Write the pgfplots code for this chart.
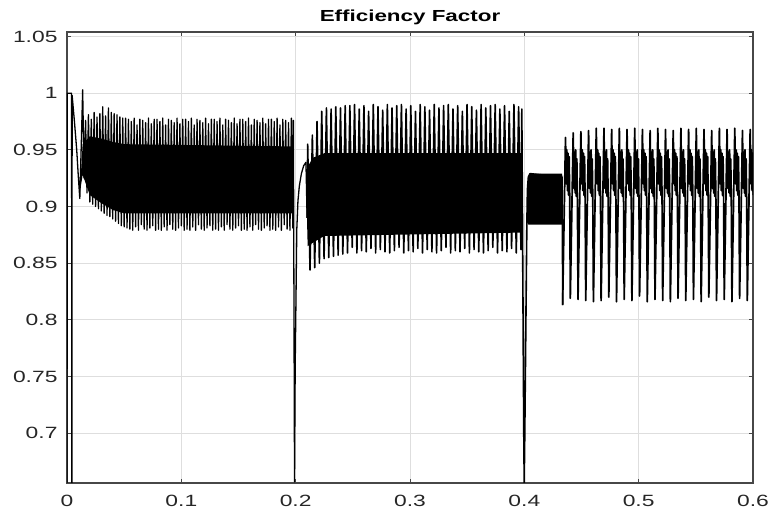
\documentclass[border=0pt]{standalone}
\usepackage{pgfplots}
\pgfplotsset{compat=1.18}
\usepackage{fontspec}
\setmainfont{Liberation Sans}[FakeStretch=1.4]
\usetikzlibrary{calc}
\begin{document}
\begin{tikzpicture}
\begin{axis}[
  scale only axis, width=686pt, height=451pt,
  xmin=0, xmax=0.6, ymin=0.656, ymax=1.054,
  xtick={0,0.1,0.2,0.3,0.4,0.5,0.6},
  xticklabels={0,0.1,0.2,0.3,0.4,0.5,0.6},
  ytick={0.7,0.75,0.8,0.85,0.9,0.95,1,1.05},
  yticklabels={0.7,0.75,0.8,0.85,0.9,0.95,1,1.05},
  /pgf/number format/assume math mode=true,
  tick label style={font=\fontsize{16.3}{17}\selectfont, text=black!85},
  xticklabel style={yshift=-9pt},
  yticklabel style={xshift=-6pt},
  grid=major, major grid style={black!13, line width=1pt},
  axis line style={black!72, line width=1.3pt},
  tick align=inside, major tick length=4pt, tick style={black!72, line width=1pt},
  title={Efficiency Factor},
  every axis title/.style={font=\fontsize{16}{16}\selectfont\bfseries, at={(0.5,1)}, anchor=base, yshift=10.3pt},
]
% solid bands
\addplot[fill=black, draw=none, forget plot] coordinates {
(0.0112,0.912) (0.0137,0.955) (0.020,0.962) (0.030,0.960) (0.040,0.957) (0.050,0.955) (0.1975,0.953)
(0.1975,0.894) (0.050,0.894) (0.040,0.897) (0.030,0.903) (0.020,0.910) (0.0137,0.928)} -- cycle;
\addplot[fill=black, draw=none, forget plot] coordinates {
(0.2100,0.885) (0.2105,0.935) (0.2150,0.943) (0.2250,0.947) (0.3975,0.947)
(0.3975,0.877) (0.2250,0.874) (0.2150,0.868) (0.2105,0.865)} -- cycle;
\addplot[fill=black, draw=none, forget plot] coordinates {
(0.4024,0.886) (0.4027,0.915) (0.4035,0.926) (0.4050,0.929) (0.4330,0.929)
(0.4335,0.924) (0.4335,0.884) (0.4035,0.884)} -- cycle;
% signal, first interval
\addplot[black, line width=1.3pt, line join=round, forget plot] coordinates {
(0,0.656) (0.0003,1.000) (0.0040,1.000) (0.00425,0.656) (0.0045,0.998)
(0.0065,0.975) (0.0085,0.950) (0.0100,0.925) (0.0112,0.907) (0.0125,0.955)
(0.0137,1.003) (0.0150,0.925)
(0.01625,0.976) (0.01750,0.912) (0.01875,0.981) (0.02000,0.904)
(0.02125,0.977) (0.02250,0.902) (0.02375,0.983) (0.02500,0.900)
(0.02625,0.979) (0.02750,0.898) (0.02875,0.982) (0.03000,0.896)
(0.03125,0.988) (0.03250,0.894) (0.03375,0.980) (0.03500,0.892)
(0.03625,0.987) (0.03750,0.891) (0.03875,0.983) (0.04000,0.889)
(0.04125,0.982) (0.04250,0.887) (0.04375,0.981) (0.04500,0.885)
(0.04625,0.979) (0.04750,0.883) (0.04875,0.978) (0.05000,0.882)
(0.05125,0.978) (0.05250,0.881)
(0.05375,0.977) (0.05500,0.880) (0.05625,0.975) (0.05750,0.879)
(0.05875,0.978) (0.06000,0.882) (0.06125,0.972) (0.06250,0.879)
(0.06375,0.977) (0.06500,0.884) (0.06625,0.976) (0.06750,0.880)
(0.06875,0.974) (0.07000,0.879) (0.07125,0.978) (0.07250,0.881)
(0.07375,0.973) (0.07500,0.883) (0.07625,0.977) (0.07750,0.879)
(0.07875,0.977) (0.08000,0.880) (0.08125,0.975) (0.08250,0.879)
(0.08375,0.978) (0.08500,0.882) (0.08625,0.972) (0.08750,0.879)
(0.08875,0.977) (0.09000,0.884) (0.09125,0.976) (0.09250,0.880)
(0.09375,0.974) (0.09500,0.879) (0.09625,0.978) (0.09750,0.881)
(0.09875,0.973) (0.10000,0.883) (0.10125,0.977) (0.10250,0.879)
(0.10375,0.977) (0.10500,0.880) (0.10625,0.975) (0.10750,0.879)
(0.10875,0.978) (0.11000,0.882) (0.11125,0.972) (0.11250,0.879)
(0.11375,0.977) (0.11500,0.884) (0.11625,0.976) (0.11750,0.880)
(0.11875,0.974) (0.12000,0.879) (0.12125,0.978) (0.12250,0.881)
(0.12375,0.973) (0.12500,0.883) (0.12625,0.977) (0.12750,0.879)
(0.12875,0.977) (0.13000,0.880) (0.13125,0.975) (0.13250,0.879)
(0.13375,0.978) (0.13500,0.882) (0.13625,0.972) (0.13750,0.879)
(0.13875,0.977) (0.14000,0.884) (0.14125,0.976) (0.14250,0.880)
(0.14375,0.974) (0.14500,0.879) (0.14625,0.978) (0.14750,0.881)
(0.14875,0.973) (0.15000,0.883) (0.15125,0.977) (0.15250,0.879)
(0.15375,0.977) (0.15500,0.880) (0.15625,0.975) (0.15750,0.879)
(0.15875,0.978) (0.16000,0.882) (0.16125,0.972) (0.16250,0.879)
(0.16375,0.977) (0.16500,0.884) (0.16625,0.976) (0.16750,0.880)
(0.16875,0.974) (0.17000,0.879) (0.17125,0.978) (0.17250,0.881)
(0.17375,0.973) (0.17500,0.883) (0.17625,0.977) (0.17750,0.879)
(0.17875,0.977) (0.18000,0.880) (0.18125,0.975) (0.18250,0.879)
(0.18375,0.978) (0.18500,0.882) (0.18625,0.972) (0.18750,0.879)
(0.18875,0.977) (0.19000,0.884) (0.19125,0.976) (0.19250,0.880)
(0.19375,0.974) (0.19500,0.879) (0.19625,0.978) (0.19750,0.881)
(0.19800,0.976) (0.19900,0.657) (0.19960,0.760) (0.2010,0.880)
(0.2020,0.905) (0.2032,0.918) (0.2050,0.929) (0.2070,0.936) (0.2090,0.939) (0.2100,0.890)
};
% signal, second interval
\addplot[black, line width=1.6pt, line join=round, forget plot] coordinates {
(0.2100,0.890)
(0.21050,0.955) (0.21255,0.844) (0.21460,0.963) (0.21665,0.846)
(0.21870,0.975) (0.22075,0.850) (0.22280,0.984) (0.22485,0.854)
(0.22690,0.987) (0.22895,0.855) (0.23100,0.986) (0.23305,0.856)
(0.23510,0.988) (0.23715,0.857) (0.23920,0.987) (0.24125,0.858)
(0.24330,0.989) (0.24535,0.859)
(0.24740,0.989) (0.24945,0.864) (0.25150,0.990) (0.25355,0.859)
(0.25560,0.986) (0.25765,0.861) (0.25970,0.989) (0.26175,0.860)
(0.26380,0.984) (0.26585,0.863) (0.26790,0.990) (0.26995,0.859)
(0.27200,0.988) (0.27405,0.862) (0.27610,0.985) (0.27815,0.860)
(0.28020,0.990) (0.28225,0.859) (0.28430,0.987) (0.28635,0.861)
(0.28840,0.989) (0.29045,0.864) (0.29250,0.990) (0.29455,0.859)
(0.29660,0.986) (0.29865,0.861) (0.30070,0.989) (0.30275,0.860)
(0.30480,0.984) (0.30685,0.863) (0.30890,0.990) (0.31095,0.859)
(0.31300,0.988) (0.31505,0.862) (0.31710,0.985) (0.31915,0.860)
(0.32120,0.990) (0.32325,0.859) (0.32530,0.987) (0.32735,0.861)
(0.32940,0.989) (0.33145,0.864) (0.33350,0.990) (0.33555,0.859)
(0.33760,0.986) (0.33965,0.861) (0.34170,0.989) (0.34375,0.860)
(0.34580,0.984) (0.34785,0.863) (0.34990,0.990) (0.35195,0.859)
(0.35400,0.988) (0.35605,0.862) (0.35810,0.985) (0.36015,0.860)
(0.36220,0.990) (0.36425,0.859) (0.36630,0.987) (0.36835,0.861)
(0.37040,0.989) (0.37245,0.864) (0.37450,0.990) (0.37655,0.859)
(0.37860,0.986) (0.38065,0.861) (0.38270,0.989) (0.38475,0.860)
(0.38680,0.984) (0.38885,0.863) (0.39090,0.990) (0.39295,0.859)
(0.39500,0.988) (0.39705,0.862)
(0.3978,0.986) (0.3995,0.700) (0.3999,0.656) (0.4004,0.700) (0.4022,0.884)
(0.4027,0.915) (0.4035,0.926) (0.4050,0.929) (0.4330,0.926) (0.4333,0.905)
(0.4335,0.813)
};
% signal, third interval
\addplot[black, line width=1.7pt, line join=round] coordinates {
(0.4335,0.813)
(0.43600,0.961) (0.43670,0.920) (0.43720,0.950) (0.43770,0.914) (0.43820,0.947) (0.43870,0.910) (0.43920,0.944) (0.43970,0.907)
(0.44023,0.819) (0.44273,0.965) (0.44343,0.916) (0.44393,0.948) (0.44443,0.912) (0.44493,0.950) (0.44543,0.909) (0.44593,0.942) (0.44643,0.905)
(0.44696,0.818) (0.44946,0.966) (0.45016,0.920) (0.45066,0.950) (0.45116,0.914) (0.45166,0.947) (0.45216,0.910) (0.45266,0.944) (0.45316,0.907)
(0.45369,0.817) (0.45619,0.967) (0.45689,0.916) (0.45739,0.948) (0.45789,0.912) (0.45839,0.950) (0.45889,0.909) (0.45939,0.942) (0.45989,0.905)
(0.46042,0.816) (0.46292,0.969) (0.46362,0.920) (0.46412,0.950) (0.46462,0.914) (0.46512,0.947) (0.46562,0.910) (0.46612,0.944) (0.46662,0.907)
(0.46715,0.817) (0.46965,0.969) (0.47035,0.916) (0.47085,0.948) (0.47135,0.912) (0.47185,0.950) (0.47235,0.909) (0.47285,0.942) (0.47335,0.905)
(0.47388,0.820) (0.47638,0.968) (0.47708,0.920) (0.47758,0.950) (0.47808,0.914) (0.47858,0.947) (0.47908,0.910) (0.47958,0.944) (0.48008,0.907)
(0.48061,0.816) (0.48311,0.969) (0.48381,0.916) (0.48431,0.948) (0.48481,0.912) (0.48531,0.950) (0.48581,0.909) (0.48631,0.942) (0.48681,0.905)
(0.48734,0.818) (0.48984,0.968) (0.49054,0.920) (0.49104,0.950) (0.49154,0.914) (0.49204,0.947) (0.49254,0.910) (0.49304,0.944) (0.49354,0.907)
(0.49407,0.817) (0.49657,0.969) (0.49727,0.916) (0.49777,0.948) (0.49827,0.912) (0.49877,0.950) (0.49927,0.909) (0.49977,0.942) (0.50027,0.905)
(0.50080,0.821) (0.50330,0.968) (0.50400,0.920) (0.50450,0.950) (0.50500,0.914) (0.50550,0.947) (0.50600,0.910) (0.50650,0.944) (0.50700,0.907)
(0.50753,0.816) (0.51003,0.967) (0.51073,0.916) (0.51123,0.948) (0.51173,0.912) (0.51223,0.950) (0.51273,0.909) (0.51323,0.942) (0.51373,0.905)
(0.51426,0.818) (0.51676,0.969) (0.51746,0.920) (0.51796,0.950) (0.51846,0.914) (0.51896,0.947) (0.51946,0.910) (0.51996,0.944) (0.52046,0.907)
(0.52099,0.817) (0.52349,0.968) (0.52419,0.916) (0.52469,0.948) (0.52519,0.912) (0.52569,0.950) (0.52619,0.909) (0.52669,0.942) (0.52719,0.905)
(0.52772,0.816) (0.53022,0.967) (0.53092,0.920) (0.53142,0.950) (0.53192,0.914) (0.53242,0.947) (0.53292,0.910) (0.53342,0.944) (0.53392,0.907)
(0.53445,0.819) (0.53695,0.969) (0.53765,0.916) (0.53815,0.948) (0.53865,0.912) (0.53915,0.950) (0.53965,0.909) (0.54015,0.942) (0.54065,0.905)
(0.54118,0.817) (0.54368,0.968) (0.54438,0.920) (0.54488,0.950) (0.54538,0.914) (0.54588,0.947) (0.54638,0.910) (0.54688,0.944) (0.54738,0.907)
(0.54791,0.818) (0.55041,0.969) (0.55111,0.916) (0.55161,0.948) (0.55211,0.912) (0.55261,0.950) (0.55311,0.909) (0.55361,0.942) (0.55411,0.905)
(0.55464,0.816) (0.55714,0.968) (0.55784,0.920) (0.55834,0.950) (0.55884,0.914) (0.55934,0.947) (0.55984,0.910) (0.56034,0.944) (0.56084,0.907)
(0.56137,0.820) (0.56387,0.967) (0.56457,0.916) (0.56507,0.948) (0.56557,0.912) (0.56607,0.950) (0.56657,0.909) (0.56707,0.942) (0.56757,0.905)
(0.56810,0.817) (0.57060,0.969) (0.57130,0.920) (0.57180,0.950) (0.57230,0.914) (0.57280,0.947) (0.57330,0.910) (0.57380,0.944) (0.57430,0.907)
(0.57483,0.818) (0.57733,0.968) (0.57803,0.916) (0.57853,0.948) (0.57903,0.912) (0.57953,0.950) (0.58003,0.909) (0.58053,0.942) (0.58103,0.905)
(0.58156,0.816) (0.58406,0.969) (0.58476,0.920) (0.58526,0.950) (0.58576,0.914) (0.58626,0.947) (0.58676,0.910) (0.58726,0.944) (0.58776,0.907)
(0.58829,0.819) (0.59079,0.967) (0.59149,0.916) (0.59199,0.948) (0.59249,0.912) (0.59299,0.950) (0.59349,0.909) (0.59399,0.942) (0.59449,0.905)
(0.59502,0.817) (0.59752,0.968) (0.59822,0.920) (0.59872,0.950) (0.59922,0.914) (0.59972,0.947) (0.60022,0.910)
};
\end{axis}
\pgfresetboundingbox
\path[use as bounding box] ($(current axis.south west)+(-67pt,-35pt)$) rectangle ($(current axis.north east)+(17pt,32pt)$);
\end{tikzpicture}
\end{document}
